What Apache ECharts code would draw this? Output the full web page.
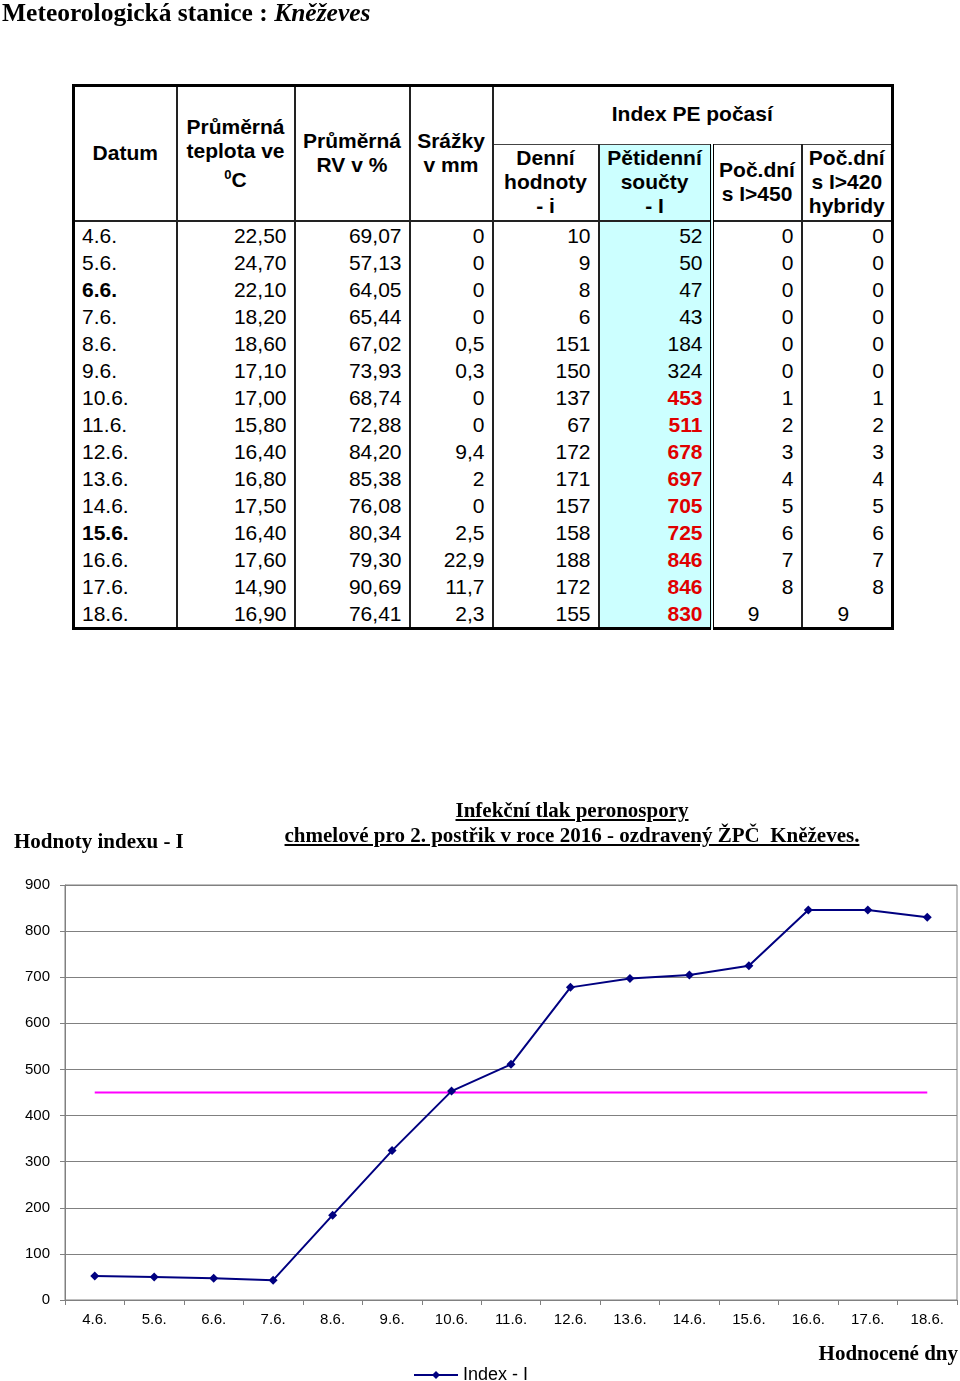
<!DOCTYPE html>
<html>
<head>
<meta charset="utf-8">
<script src="https://cdn.jsdelivr.net/npm/echarts@6/dist/echarts.min.js"></script>
<style>
  html, body { margin:0; padding:0; background:#fff; }
  body { width:960px; height:1381px; position:relative; overflow:hidden; }
  #chart { position:absolute; left:0; top:0; width:960px; height:1381px; }
  .ov { position:absolute; z-index:2; }
  #mainTitle { left:2px; top:-1px; font-family:"Liberation Serif", "Times New Roman", serif; font-weight:bold; font-size:25.5px; line-height:27px; white-space:nowrap; }
  #ctitle { left:272px; top:798px; width:600px; text-align:center; font-family:"Liberation Serif", serif; font-weight:bold; font-size:21px; line-height:25px; text-decoration:underline; white-space:nowrap; }
  #ylab { left:14px; top:829px; font-family:"Liberation Serif", serif; font-weight:bold; font-size:21px; line-height:24px; white-space:nowrap; }
  #xlab { right:2px; top:1341px; font-family:"Liberation Serif", serif; font-weight:bold; font-size:21px; line-height:24px; white-space:nowrap; }
  table { position:absolute; left:72px; top:84px; width:819px; border-collapse:collapse; table-layout:fixed; border:3px solid #000; font-family:"Liberation Sans", Arial, sans-serif; font-size:21px; z-index:2; background:#fff; }
  th { font-weight:bold; text-align:center; vertical-align:middle; line-height:24px; padding:0; border:2px solid #222; }
  td { padding:0 7px 1px 7px; text-align:right; vertical-align:bottom; line-height:23px; border-left:2px solid #222; border-right:2px solid #222; border-top:none; border-bottom:none; white-space:nowrap; }
  td.d { text-align:left; padding-left:7px; }
  .cy { background:#ccffff; }
  .dbl { border-right:4px double #000 !important; }
  .red { color:#e00000; font-weight:bold; }
  tr.h1 { height:59px; }
  tr.h2 { height:76px; }
  tr.r { height:27px; }
  tr.last { height:30px; }
  tr.last td { vertical-align:middle; padding-top:3px; }
  td.c { text-align:center; padding-right:14px; }
</style>
</head>
<body>
<div id="chart"></div>
<div id="mainTitle" class="ov">Meteorologická stanice : <i>Kněževes</i></div>
<table id="tbl">
  <colgroup>
    <col style="width:103px"><col style="width:118px"><col style="width:115px"><col style="width:83px">
    <col style="width:106px"><col style="width:113px"><col style="width:90px"><col style="width:91px">
  </colgroup>
  <thead>
    <tr class="h1">
      <th rowspan="2">Datum</th>
      <th rowspan="2">Průměrná<br>teplota ve<br><sup style="font-size:13px">0</sup>C</th>
      <th rowspan="2">Průměrná<br>RV v %</th>
      <th rowspan="2">Srážky<br>v mm</th>
      <th colspan="4" style="border-bottom:1px solid #444; padding-bottom:4px">Index PE počasí</th>
    </tr>
    <tr class="h2">
      <th style="border-top:1px solid #444">Denní<br>hodnoty<br>- i</th>
      <th class="cy dbl" style="border-top:1px solid #444">Pětidenní<br>součty<br>- I</th>
      <th style="border-top:1px solid #444">Poč.dní<br>s I&gt;450</th>
      <th style="border-top:1px solid #444">Poč.dní<br>s I&gt;420<br>hybridy</th>
    </tr>
  </thead>
  <tbody id="tb"></tbody>
</table>
<div id="ylab" class="ov">Hodnoty indexu - I</div>
<div id="ctitle" class="ov">Infekční tlak peronospory<br>chmelové pro 2. postřik v roce 2016 - ozdravený ŽPČ&nbsp; Kněževes.</div>
<div id="xlab" class="ov">Hodnocené dny</div>
<script>
// ---- data ----
var dates = ['4.6.','5.6.','6.6.','7.6.','8.6.','9.6.','10.6.','11.6.','12.6.','13.6.','14.6.','15.6.','16.6.','17.6.','18.6.'];
var teplota = ['22,50','24,70','22,10','18,20','18,60','17,10','17,00','15,80','16,40','16,80','17,50','16,40','17,60','14,90','16,90'];
var vlhkost = ['69,07','57,13','64,05','65,44','67,02','73,93','68,74','72,88','84,20','85,38','76,08','80,34','79,30','90,69','76,41'];
var srazky = ['0','0','0','0','0,5','0,3','0','0','9,4','2','0','2,5','22,9','11,7','2,3'];
var denniIndex = [10,9,8,6,151,150,137,67,172,171,157,158,188,172,155];
var petidenniIndex = [52,50,47,43,184,324,453,511,678,697,705,725,846,846,830];
var pocDni450 = [0,0,0,0,0,0,1,2,3,4,5,6,7,8,9];
var pocDni420 = [0,0,0,0,0,0,1,2,3,4,5,6,7,8,9];
var boldDates = ['6.6.','15.6.'];
var limitLine = [450,450,450,450,450,450,450,450,450,450,450,450,450,450,450];
var yTicks = {min:0, max:900, interval:100};

// ---- table ----
var tb = document.getElementById('tb');
var html = '';
for (var i = 0; i < dates.length; i++) {
  var last = (i === dates.length - 1);
  var red = petidenniIndex[i] >= 450 ? ' red' : '';
  var bd = boldDates.indexOf(dates[i]) >= 0 ? ' style="font-weight:bold"' : '';
  html += '<tr class="' + (last ? 'last' : 'r') + '">' +
    '<td class="d"' + bd + '>' + dates[i] + '</td>' +
    '<td>' + teplota[i] + '</td>' +
    '<td>' + vlhkost[i] + '</td>' +
    '<td>' + srazky[i] + '</td>' +
    '<td>' + denniIndex[i] + '</td>' +
    '<td class="cy dbl' + red + '">' + petidenniIndex[i] + '</td>' +
    '<td' + (last ? ' class="c"' : '') + '>' + pocDni450[i] + '</td>' +
    '<td' + (last ? ' class="c"' : '') + '>' + pocDni420[i] + '</td>' +
    '</tr>';
}
tb.innerHTML = html;

// ---- chart ----
var chart = echarts.init(document.getElementById('chart'), null, {renderer:'canvas'});
chart.setOption({
  animation: false,
  backgroundColor: '#fff',
  grid: { left:65, top:885, width:892, height:415, containLabel:false, show:true, borderColor:'#808080', borderWidth:1, backgroundColor:'transparent' },
  legend: {
    data: ['Index - I'], left: 408, top: 1361, itemWidth: 44, itemHeight: 10, itemGap: 4,
    textStyle: { fontFamily:'Liberation Sans', fontSize:18, color:'#000' }
  },
  xAxis: {
    type:'category', data: dates, boundaryGap:true,
    axisLine:{ show:true, lineStyle:{ color:'#808080', width:1 } },
    axisTick:{ show:true, alignWithLabel:false, length:5, lineStyle:{ color:'#808080' } },
    axisLabel:{ fontFamily:'Liberation Sans', fontSize:15, color:'#000', margin:12, interval:0 },
    splitLine:{ show:false }
  },
  yAxis: {
    type:'value', min:yTicks.min, max:yTicks.max, interval:yTicks.interval,
    axisLine:{ show:true, lineStyle:{ color:'#808080', width:1 } },
    axisTick:{ show:true, length:5, lineStyle:{ color:'#808080' } },
    axisLabel:{ fontFamily:'Liberation Sans', fontSize:15, color:'#000', margin:15 },
    splitLine:{ show:true, lineStyle:{ color:'#808080', width:1 } }
  },
  series: [
    { name:'Limit 450', type:'line', data: limitLine, symbol:'none', lineStyle:{ color:'#ff00ff', width:2 }, itemStyle:{ color:'#ff00ff' }, z:2 },
    { name:'Index - I', type:'line', data: petidenniIndex, symbol:'diamond', symbolSize:9,
      lineStyle:{ color:'#000080', width:2 }, itemStyle:{ color:'#000080' }, z:3 }
  ]
});
</script>
</body>
</html>
